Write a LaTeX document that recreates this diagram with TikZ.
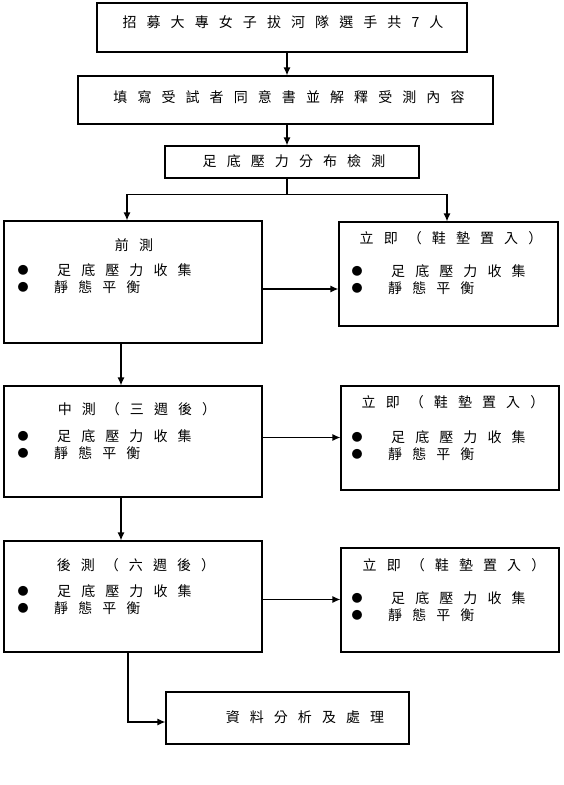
\documentclass[tikz,border=0pt]{standalone}
\usepackage{fontspec}
\newfontfamily\cjk[LetterSpace=72]{Noto Sans CJK TC}
\newfontfamily\cjkdot{Noto Sans CJK TC}
\usetikzlibrary{arrows.meta, calc, positioning}

\begin{document}
\begin{tikzpicture}[
		x=1pt, y=-1pt,
		>={Latex[length=8pt, width=7pt]},
		box/.style={
				draw,
				line width=1.2pt,
				inner sep=0pt
			},
		txt/.style={
				inner sep=0pt,
				font=\cjk\fontsize{14}{16}\selectfont
			},
		dot/.style={
				inner sep=0pt,
				font=\cjkdot\fontsize{11}{13}\selectfont
			},
		flow/.style={->, line width=1.2pt}
	]
	\useasboundingbox (0,0) rectangle (564,785);

	% steps down the middle
	\node[box, minimum width=370pt, minimum height=49pt] (rec) at (282,27.5) {};
	\node[txt] (recT) at (283,22) {招募大專女子拔河隊選手共7人};

	\node[box, minimum width=415pt, minimum height=48pt] (form) at (285.5,100) {};
	\node[txt] (formT) at (289,97) {填寫受試者同意書並解釋受測內容};

	\node[box, minimum width=254pt, minimum height=32pt] (chk) at (292,162) {};
	\node[txt] (chkT) at (294,161) {足底壓力分布檢測};

	% left column: tests
	\node[box, minimum width=258pt, minimum height=122pt] (pre) at (133,282) {};
	\node[txt] (preT) at (134,245) {前測};

	\node[box, minimum width=258pt, minimum height=111pt] (mid) at (133,441.5) {};
	\node[txt] (midT) at (137,409) {中測（三週後）};

	\node[box, minimum width=258pt, minimum height=111pt] (post) at (133,596.5) {};
	\node[txt] (postT) at (136,565) {後測（六週後）};

	% right column: insoles in
	\node[box, minimum width=219pt, minimum height=104pt] (now1) at (448.5,274) {};
	\node[txt] (now1T) at (451,238) {立即（鞋墊置入）};

	\node[box, minimum width=218pt, minimum height=104pt] (now2) at (450,438) {};
	\node[txt] (now2T) at (453,402) {立即（鞋墊置入）};

	\node[box, minimum width=218pt, minimum height=104pt] (now3) at (450,600) {};
	\node[txt] (now3T) at (454,565) {立即（鞋墊置入）};

	\node[box, minimum width=243pt, minimum height=52pt] (ana) at (287.5,718) {};
	\node[txt] (anaT) at (305,717) {資料分析及處理};

	% bullet lines in each test box
	\foreach \n/\bx/\by in {pre/23/270, mid/23/436, post/23/591,
			now1/357/271, now2/357/437, now3/357/598} {
			\node[dot] (\n-d1) at (\bx,\by) {●};
			\node[dot] (\n-d2) at (\bx,\by+17) {●};
			\node[txt, anchor=west] (\n-a) at (\bx+34,\by) {足底壓力收集};
			\node[txt, anchor=west] (\n-b) at (\bx+31,\by+17) {靜態平衡};
		}

	% connectors
	\coordinate (spine) at (287,0);
	\draw[flow] (rec.south -| spine) -- (form.north -| spine);
	\draw[flow] (form.south -| spine) -- (chk.north -| spine);
	\draw[line width=1.2pt] (chk.south -| spine) -- ++(0,16) coordinate (split);
	\draw[flow] (split) -| ([xshift=-6pt]pre.north);
	\draw[flow] (split) -| ([xshift=-1.5pt]now1.north);

	\draw[flow] ([xshift=-12pt]pre.south) -- ([xshift=-12pt]mid.north);
	\draw[flow] ([xshift=-12pt]mid.south) -- ([xshift=-12pt]post.north);
	\draw[flow] ([xshift=-5pt]post.south) |- ([yshift=-4pt]ana.west);

	\draw[flow] (pre.east) ++(0,7) coordinate (p1) -- (p1 -| now1.west);
	\draw[flow] (mid.east) ++(0,-4) coordinate (p2) -- (p2 -| now2.west);
	\draw[flow] (post.east) ++(0,3) coordinate (p3) -- (p3 -| now3.west);
\end{tikzpicture}
\end{document}
